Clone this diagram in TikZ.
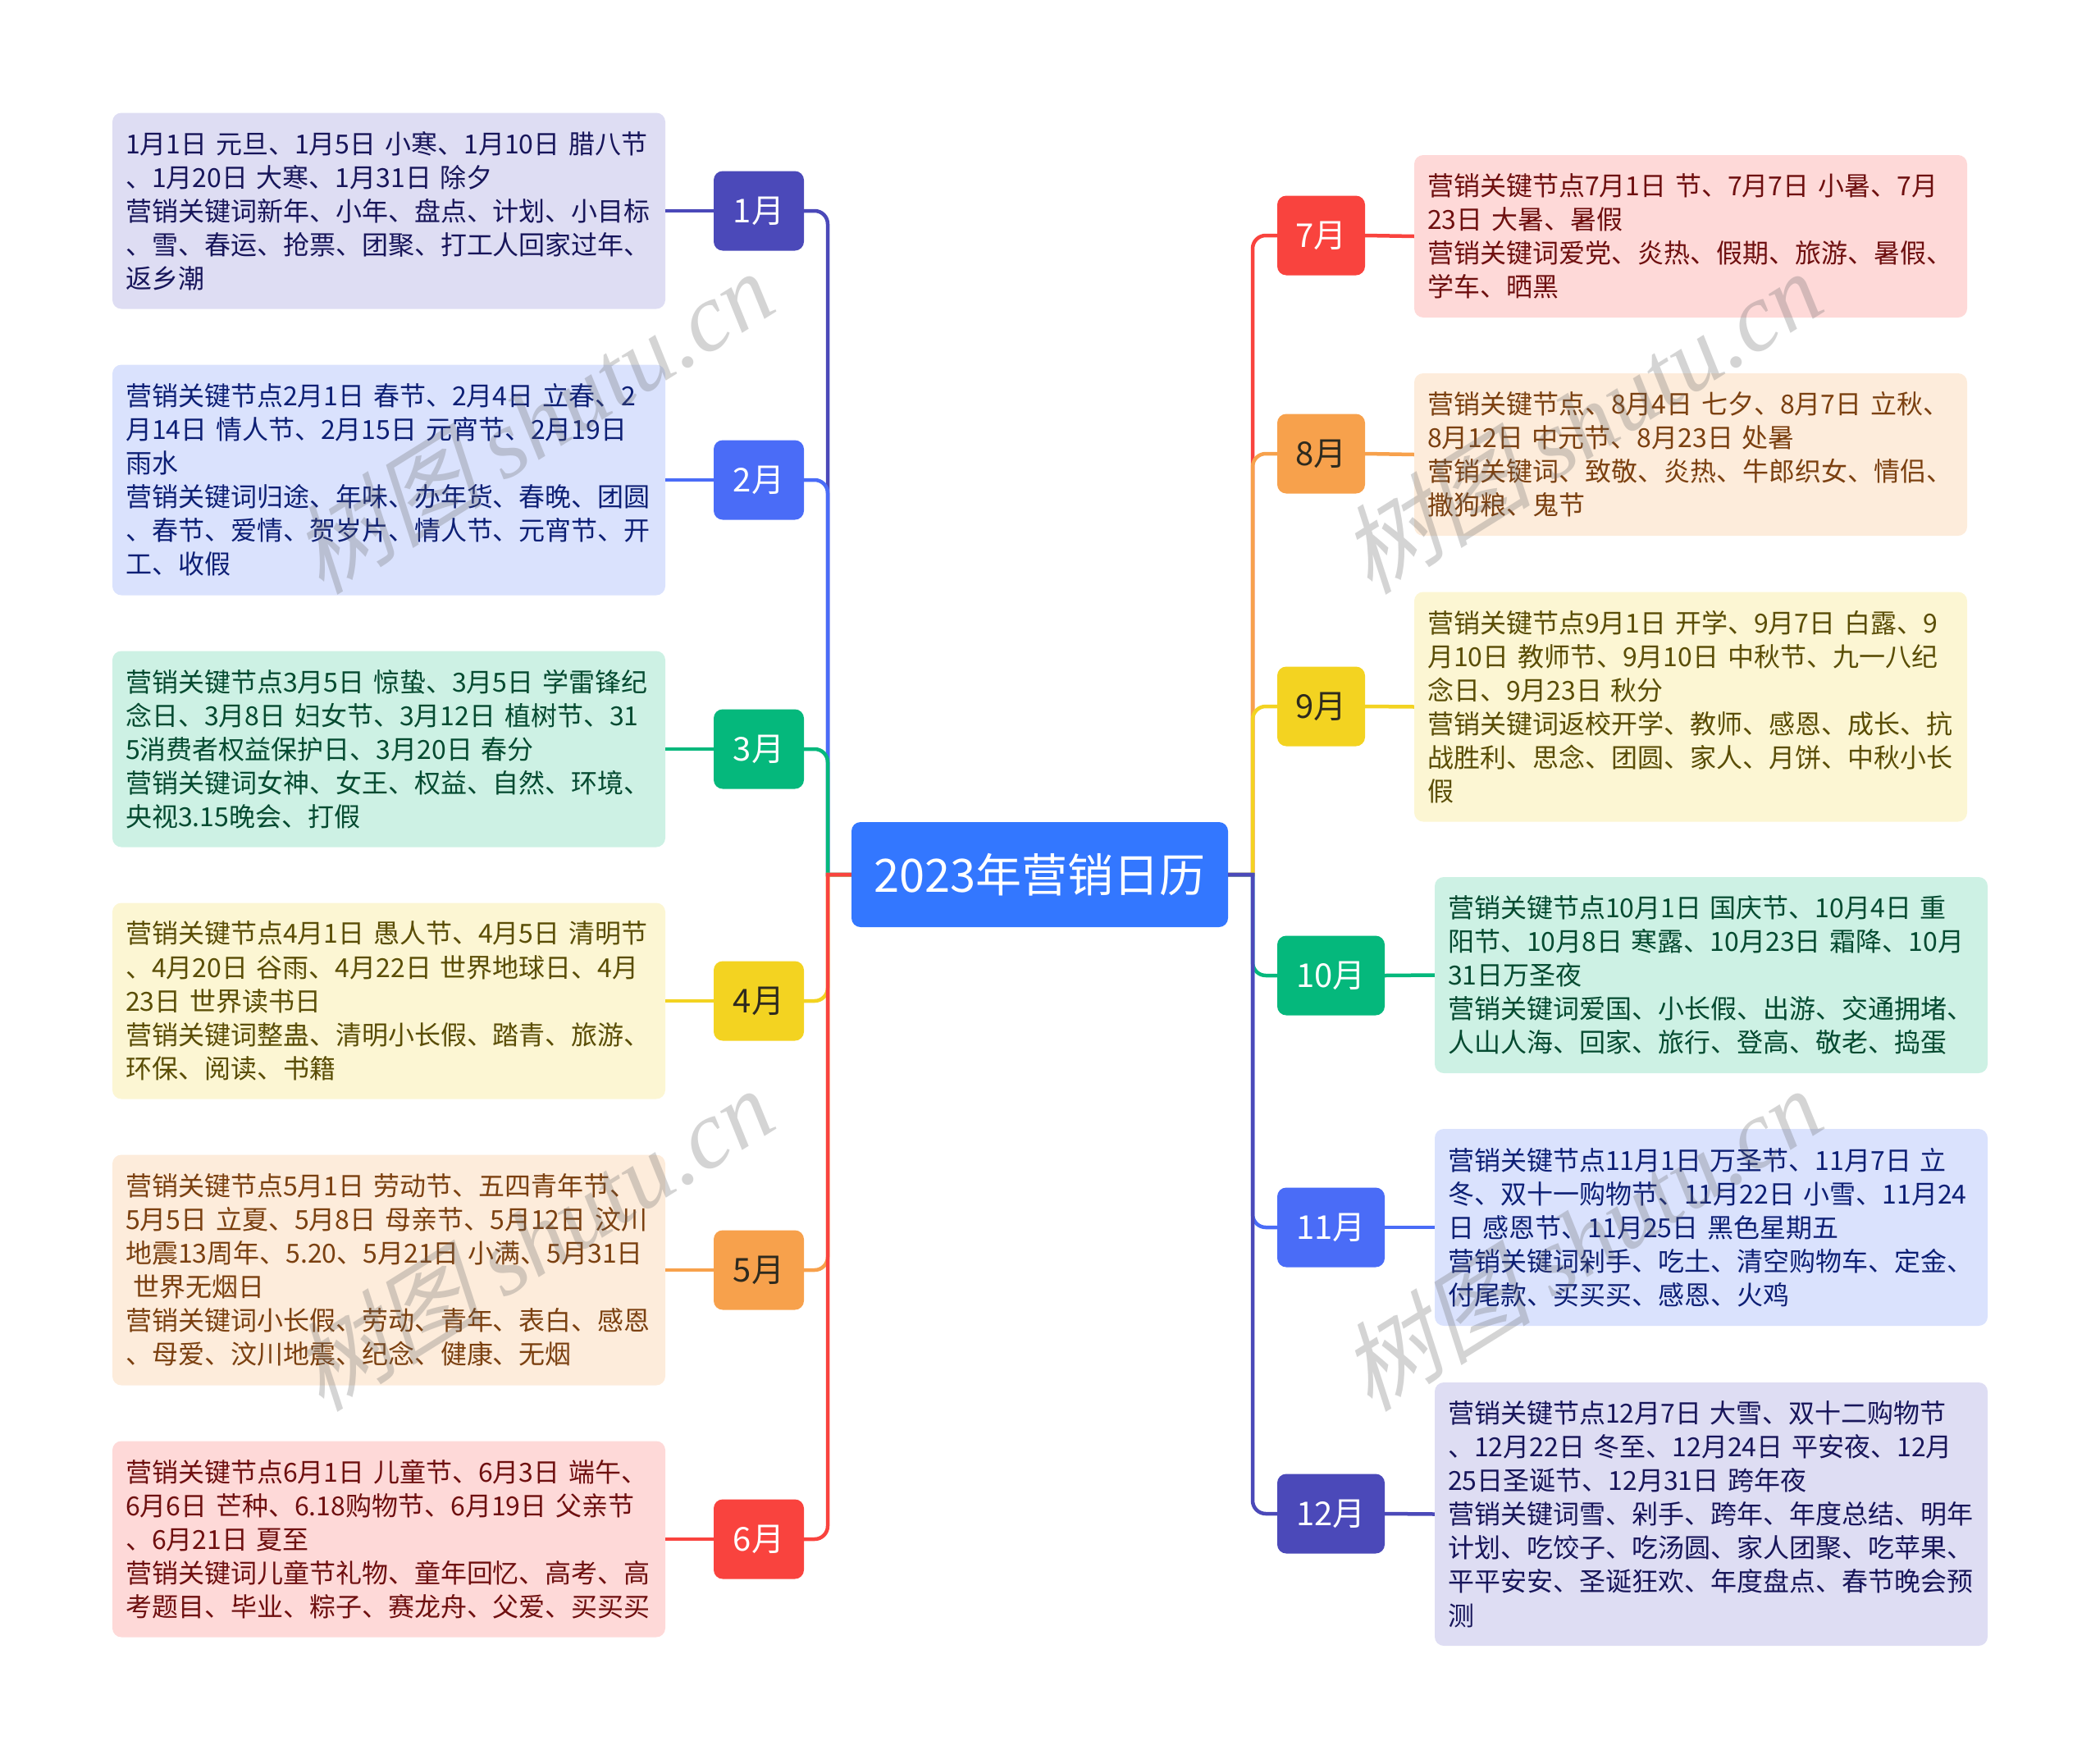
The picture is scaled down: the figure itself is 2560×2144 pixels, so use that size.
\documentclass[tikz,border=0pt]{standalone}
\usepackage{fontspec}
\setmainfont{Noto Sans CJK SC}
\newfontfamily\wmcjk[FakeSlant=0.25]{Noto Sans CJK SC}
\newfontfamily\wmlat{Liberation Serif}
\definecolor{cIndigo}{HTML}{4B49B9}\definecolor{bIndigo}{HTML}{DEDDF3}\definecolor{tIndigo}{HTML}{17155A}
\definecolor{cBlue}{HTML}{4A6CF7}\definecolor{bBlue}{HTML}{DAE2FD}\definecolor{tBlue}{HTML}{0D1F75}
\definecolor{cGreen}{HTML}{05B87C}\definecolor{bGreen}{HTML}{CDF1E4}\definecolor{tGreen}{HTML}{044A30}
\definecolor{cYellow}{HTML}{F3D321}\definecolor{bYellow}{HTML}{FCF6D3}\definecolor{tYellow}{HTML}{5A4D05}
\definecolor{cOrange}{HTML}{F7A14C}\definecolor{bOrange}{HTML}{FDECDB}\definecolor{tOrange}{HTML}{7B4010}
\definecolor{cRed}{HTML}{F9433E}\definecolor{bRed}{HTML}{FED9D8}\definecolor{tRed}{HTML}{6E0F0F}
\definecolor{cRoot}{HTML}{3377FF}\definecolor{tDark}{HTML}{2E2A1E}
\tikzset{
  x=1pt,y=-1pt,
  monnode/.style={rounded corners=11pt,minimum height=97pt,inner sep=0pt,font=\fontsize{40}{48}\selectfont},
  txtbox/.style={rounded corners=11pt,text width=642pt,inner xsep=16pt,inner ysep=0pt,align=left,font=\fontsize{32}{41.1}\selectfont},
  link/.style={line width=4.5pt},
  arm/.style={rounded corners=16pt},
  wmark/.style={rotate=32,text=black!60,opacity=.28,inner sep=0pt,font=\fontsize{118}{130}\selectfont}
}
\begin{document}
\begin{tikzpicture}
\useasboundingbox (0,0) rectangle (2560,2144);
\coordinate (spL) at (1009,1066);
\coordinate (spR) at (1527,1066);
\node[fill=cRoot,text=white,rounded corners=11pt,minimum width=459pt,minimum height=128pt,inner sep=0pt,font=\fontsize{56}{64}\selectfont] (root) at (1267.5,1066) {2023年营销日历};
% months left
\node[monnode,fill=cIndigo,text=white,minimum width=110pt] (m1) at (925,257) {1月};
\node[monnode,fill=cBlue,text=white,minimum width=110pt] (m2) at (925,585) {2月};
\node[monnode,fill=cGreen,text=white,minimum width=110pt] (m3) at (925,913) {3月};
\node[monnode,fill=cYellow,text=tDark,minimum width=110pt] (m4) at (925,1220) {4月};
\node[monnode,fill=cOrange,text=tDark,minimum width=110pt] (m5) at (925,1548) {5月};
\node[monnode,fill=cRed,text=white,minimum width=110pt] (m6) at (925,1876) {6月};
% months right
\node[monnode,fill=cRed,text=white,minimum width=107pt] (m7) at (1610.5,287) {7月};
\node[monnode,fill=cOrange,text=tDark,minimum width=107pt] (m8) at (1610.5,553) {8月};
\node[monnode,fill=cYellow,text=tDark,minimum width=107pt] (m9) at (1610.5,861) {9月};
\node[monnode,fill=cGreen,text=white,minimum width=131pt] (m10) at (1622.5,1189) {10月};
\node[monnode,fill=cBlue,text=white,minimum width=131pt] (m11) at (1622.5,1496) {11月};
\node[monnode,fill=cIndigo,text=white,minimum width=131pt] (m12) at (1622.5,1845) {12月};
% boxes left
\node[txtbox,fill=bIndigo,text=tIndigo,minimum height=239pt] (b1) at (474,257) {1月1日 元旦、1月5日 小寒、1月10日 腊八节\\、1月20日 大寒、1月31日 除夕\\营销关键词新年、小年、盘点、计划、小目标\\、雪、春运、抢票、团聚、打工人回家过年、\\返乡潮};
\node[txtbox,fill=bBlue,text=tBlue,minimum height=281pt] (b2) at (474,585) {营销关键节点2月1日 春节、2月4日 立春、2\\月14日 情人节、2月15日 元宵节、2月19日\\雨水\\营销关键词归途、年味、办年货、春晚、团圆\\、春节、爱情、贺岁片、情人节、元宵节、开\\工、收假};
\node[txtbox,fill=bGreen,text=tGreen,minimum height=239pt] (b3) at (474,913) {营销关键节点3月5日 惊蛰、3月5日 学雷锋纪\\念日、3月8日 妇女节、3月12日 植树节、31\\5消费者权益保护日、3月20日 春分\\营销关键词女神、女王、权益、自然、环境、\\央视3.15晚会、打假};
\node[txtbox,fill=bYellow,text=tYellow,minimum height=239pt] (b4) at (474,1220) {营销关键节点4月1日 愚人节、4月5日 清明节\\、4月20日 谷雨、4月22日 世界地球日、4月\\23日 世界读书日\\营销关键词整蛊、清明小长假、踏青、旅游、\\环保、阅读、书籍};
\node[txtbox,fill=bOrange,text=tOrange,minimum height=281pt] (b5) at (474,1548) {营销关键节点5月1日 劳动节、五四青年节、\\5月5日 立夏、5月8日 母亲节、5月12日 汶川\\地震13周年、5.20、5月21日 小满、5月31日\\\hspace*{9pt}世界无烟日\\营销关键词小长假、劳动、青年、表白、感恩\\、母爱、汶川地震、纪念、健康、无烟};
\node[txtbox,fill=bRed,text=tRed,minimum height=239pt] (b6) at (474,1876) {营销关键节点6月1日 儿童节、6月3日 端午、\\6月6日 芒种、6.18购物节、6月19日 父亲节\\、6月21日 夏至\\营销关键词儿童节礼物、童年回忆、高考、高\\考题目、毕业、粽子、赛龙舟、父爱、买买买};
% boxes right
\node[txtbox,fill=bRed,text=tRed,minimum height=198pt] (b7) at (2061,288) {营销关键节点7月1日 节、7月7日 小暑、7月\\23日 大暑、暑假\\营销关键词爱党、炎热、假期、旅游、暑假、\\学车、晒黑};
\node[txtbox,fill=bOrange,text=tOrange,minimum height=198pt] (b8) at (2061,554) {营销关键节点、8月4日 七夕、8月7日 立秋、\\8月12日 中元节、8月23日 处暑\\营销关键词、致敬、炎热、牛郎织女、情侣、\\撒狗粮、鬼节};
\node[txtbox,fill=bYellow,text=tYellow,minimum height=280pt] (b9) at (2061,861.5) {营销关键节点9月1日 开学、9月7日 白露、9\\月10日 教师节、9月10日 中秋节、九一八纪\\念日、9月23日 秋分\\营销关键词返校开学、教师、感恩、成长、抗\\战胜利、思念、团圆、家人、月饼、中秋小长\\假};
\node[txtbox,fill=bGreen,text=tGreen,minimum height=239pt] (b10) at (2086,1188.5) {营销关键节点10月1日 国庆节、10月4日 重\\阳节、10月8日 寒露、10月23日 霜降、10月\\31日万圣夜\\营销关键词爱国、小长假、出游、交通拥堵、\\人山人海、回家、旅行、登高、敬老、捣蛋};
\node[txtbox,fill=bBlue,text=tBlue,minimum height=240pt] (b11) at (2086,1496) {营销关键节点11月1日 万圣节、11月7日 立\\冬、双十一购物节、11月22日 小雪、11月24\\日 感恩节、11月25日 黑色星期五\\营销关键词剁手、吃土、清空购物车、定金、\\付尾款、买买买、感恩、火鸡};
\node[txtbox,fill=bIndigo,text=tIndigo,minimum height=321pt] (b12) at (2086,1845.5) {营销关键节点12月7日 大雪、双十二购物节\\、12月22日 冬至、12月24日 平安夜、12月\\25日圣诞节、12月31日 跨年夜\\营销关键词雪、剁手、跨年、年度总结、明年\\计划、吃饺子、吃汤圆、家人团聚、吃苹果、\\平平安安、圣诞狂欢、年度盘点、春节晚会预\\测};
% connectors root - month
\draw[link,cIndigo] (root.west) -- (spL) [arm] |- (m1.east);
\draw[link,cBlue] (root.west) -- (spL) [arm] |- (m2.east);
\draw[link,cGreen] (root.west) -- (spL) [arm] |- (m3.east);
\draw[link,cYellow] (root.west) -- (spL) [arm] |- (m4.east);
\draw[link,cOrange] (root.west) -- (spL) [arm] |- (m5.east);
\draw[link,cRed] (root.west) -- (spL) [arm] |- (m6.east);
\draw[link,cRed] (root.east) -- (spR) [arm] |- (m7.west);
\draw[link,cOrange] (root.east) -- (spR) [arm] |- (m8.west);
\draw[link,cYellow] (root.east) -- (spR) [arm] |- (m9.west);
\draw[link,cGreen] (root.east) -- (spR) [arm] |- (m10.west);
\draw[link,cBlue] (root.east) -- (spR) [arm] |- (m11.west);
\draw[link,cIndigo] (root.east) -- (spR) [arm] |- (m12.west);
% connectors month - box
\draw[link,cIndigo] (m1.west) -- (b1.east);
\draw[link,cBlue] (m2.west) -- (b2.east);
\draw[link,cGreen] (m3.west) -- (b3.east);
\draw[link,cYellow] (m4.west) -- (b4.east);
\draw[link,cOrange] (m5.west) -- (b5.east);
\draw[link,cRed] (m6.west) -- (b6.east);
\draw[link,cRed] (m7.east) -- (b7.west);
\draw[link,cOrange] (m8.east) -- (b8.west);
\draw[link,cYellow] (m9.east) -- (b9.west);
\draw[link,cGreen] (m10.east) -- (b10.west);
\draw[link,cBlue] (m11.east) -- (b11.west);
\draw[link,cIndigo] (m12.east) -- (b12.west);
% watermarks
\node[wmark] (w1) at (648,514) {\wmcjk 树图 \wmlat\itshape shutu.cn};
\node[wmark] (w2) at (1926,514) {\wmcjk 树图 \wmlat\itshape shutu.cn};
\node[wmark] (w3) at (648,1510) {\wmcjk 树图 \wmlat\itshape shutu.cn};
\node[wmark] (w4) at (1926,1510) {\wmcjk 树图 \wmlat\itshape shutu.cn};
\end{tikzpicture}
\end{document}
